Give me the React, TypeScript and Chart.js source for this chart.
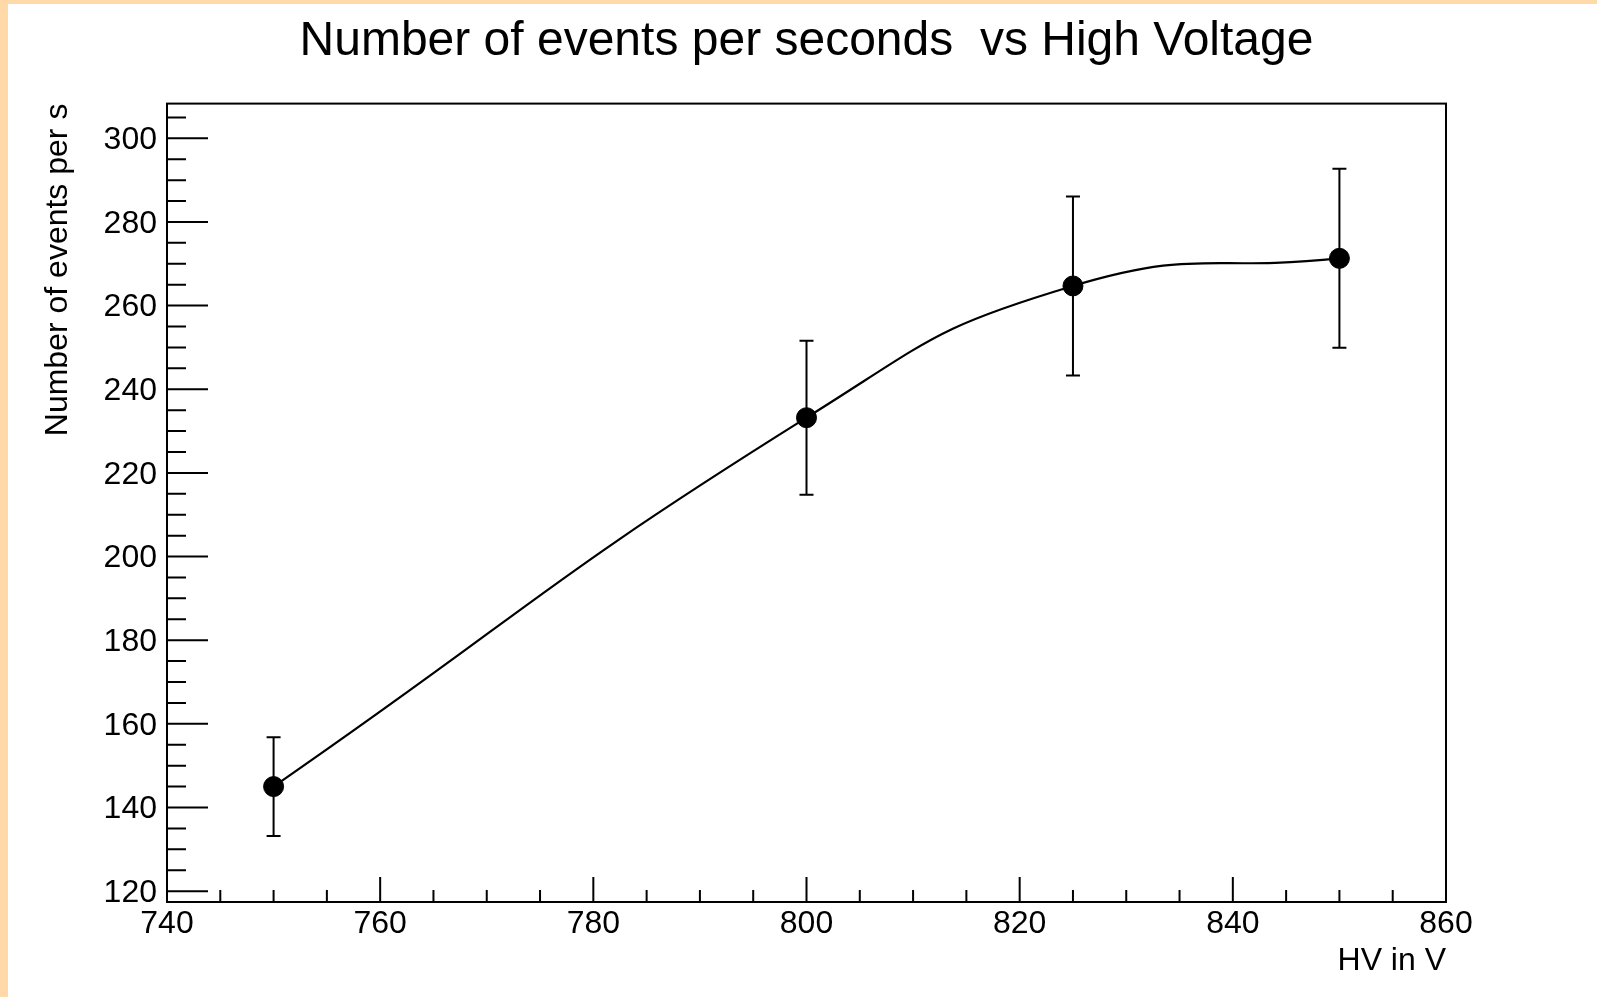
import { useEffect, useRef } from "react";
import { Chart, registerables } from "chart.js";

Chart.register(...registerables);

const hvValues = [750, 800, 825, 850];
const eventRates = [145, 233.2, 264.7, 271.3];
const rateErrors = [11.8, 18.4, 21.4, 21.4];
const xTickValues = [740, 760, 780, 800, 820, 840, 860];
const yTickValues = [120, 140, 160, 180, 200, 220, 240, 260, 280, 300];
const minorDivisions = 4;
const chartTitle = "Number of events per seconds  vs High Voltage";
const xAxisTitle = "HV in V";
const yAxisTitle = "Number of events per s";

const FONT = "'Liberation Sans', Arial, Helvetica, sans-serif";

function minorValues(majors: number[], min: number, max: number): number[] {
  const out: number[] = [];
  const step = (majors[1] - majors[0]) / minorDivisions;
  let v = majors[0] - step;
  while (v >= min - 1e-9) {
    out.push(v);
    v -= step;
  }
  for (let i = 0; i < majors.length - 1; i++) {
    const s = (majors[i + 1] - majors[i]) / minorDivisions;
    for (let k = 1; k < minorDivisions; k++) out.push(majors[i] + k * s);
  }
  v = majors[majors.length - 1] + step;
  while (v <= max + 1e-9) {
    out.push(v);
    v += step;
  }
  return out;
}

const frameTicksPlugin = {
  id: "frameTicks",
  beforeDatasetsDraw(chart: any) {
    const { ctx, chartArea } = chart;
    const xs = chart.scales.x;
    const ys = chart.scales.y;
    ctx.save();
    ctx.strokeStyle = "#000";
    ctx.lineWidth = 2;
    ctx.strokeRect(chartArea.left, chartArea.top, chartArea.right - chartArea.left, chartArea.bottom - chartArea.top);
    ctx.beginPath();
    xTickValues.forEach((v) => {
      const px = xs.getPixelForValue(v);
      ctx.moveTo(px, chartArea.bottom);
      ctx.lineTo(px, chartArea.bottom - 25);
    });
    minorValues(xTickValues, xs.min, xs.max).forEach((v) => {
      const px = xs.getPixelForValue(v);
      ctx.moveTo(px, chartArea.bottom);
      ctx.lineTo(px, chartArea.bottom - 12);
    });
    yTickValues.forEach((v) => {
      const py = ys.getPixelForValue(v);
      ctx.moveTo(chartArea.left, py);
      ctx.lineTo(chartArea.left + 41, py);
    });
    minorValues(yTickValues, ys.min, ys.max).forEach((v) => {
      const py = ys.getPixelForValue(v);
      ctx.moveTo(chartArea.left, py);
      ctx.lineTo(chartArea.left + 19, py);
    });
    ctx.stroke();

    // error bars
    ctx.beginPath();
    hvValues.forEach((hv, i) => {
      const px = xs.getPixelForValue(hv);
      const yTop = ys.getPixelForValue(eventRates[i] + rateErrors[i]);
      const yBot = ys.getPixelForValue(eventRates[i] - rateErrors[i]);
      ctx.moveTo(px, yTop);
      ctx.lineTo(px, yBot);
      ctx.moveTo(px - 7, yTop);
      ctx.lineTo(px + 7, yTop);
      ctx.moveTo(px - 7, yBot);
      ctx.lineTo(px + 7, yBot);
    });
    ctx.stroke();
    ctx.restore();
  },
};

export default function App() {
  const canvasRef = useRef<HTMLCanvasElement | null>(null);

  useEffect(() => {
    const canvas = canvasRef.current;
    if (!canvas) return;
    const tickFont = { family: FONT, size: 32, weight: "normal" as const, lineHeight: 1.2 };
    const chart = new Chart(canvas, {
      type: "scatter",
      data: {
        datasets: [
          {
            data: hvValues.map((x, i) => ({ x, y: eventRates[i] })),
            showLine: true,
            tension: 0.5,
            borderColor: "#000",
            borderWidth: 2.2,
            pointRadius: 10,
            pointBorderWidth: 1,
            pointBackgroundColor: "#000",
            pointBorderColor: "#000",
          },
        ],
      },
      options: {
        responsive: false,
        animation: false,
        devicePixelRatio: 1,
        layout: { padding: { left: 0, right: 151, top: 0, bottom: 0 } },
        plugins: {
          legend: { display: false },
          tooltip: { enabled: false },
          title: {
            display: true,
            text: chartTitle,
            fullSize: false,
            color: "#000",
            font: { family: FONT, size: 48, weight: "normal", lineHeight: 1.2 },
            padding: { top: 9, bottom: 33 },
          },
        },
        scales: {
          x: {
            type: "linear",
            position: "bottom",
            min: 740,
            max: 860,
            afterBuildTicks: (s: any) => {
              s.ticks = xTickValues.map((v) => ({ value: v }));
            },
            afterFit: (s: any) => {
              s.height = 95;
            },
            grid: { display: false, drawTicks: false },
            border: { display: false },
            ticks: { font: tickFont, color: "#000", padding: 3, maxRotation: 0, autoSkip: false },
            title: {
              display: true,
              text: xAxisTitle,
              align: "end",
              color: "#000",
              font: tickFont,
              padding: { top: 0, bottom: 17 },
            },
          },
          y: {
            type: "linear",
            position: "left",
            min: 117.4,
            max: 308.3,
            afterBuildTicks: (s: any) => {
              s.ticks = yTickValues.map((v) => ({ value: v }));
            },
            afterFit: (s: any) => {
              s.width = 159;
            },
            grid: { display: false, drawTicks: false },
            border: { display: false },
            ticks: { font: tickFont, color: "#000", padding: 10, labelOffset: 2, autoSkip: false },
            title: {
              display: true,
              text: yAxisTitle,
              align: "end",
              color: "#000",
              font: tickFont,
              padding: { top: 31, bottom: 0 },
            },
          },
        },
      },
      plugins: [frameTicksPlugin],
    });
    return () => chart.destroy();
  }, []);

  return (
    <div
      style={{
        position: "fixed",
        left: 0,
        top: 0,
        width: 1597,
        height: 997,
        background: "#fff",
        boxSizing: "border-box",
        borderLeft: "8px solid #FFDAA8",
        borderTop: "4px solid #FFDAA8",
      }}
    >
      <canvas ref={canvasRef} width={1589} height={993} style={{ display: "block" }} />
    </div>
  );
}
